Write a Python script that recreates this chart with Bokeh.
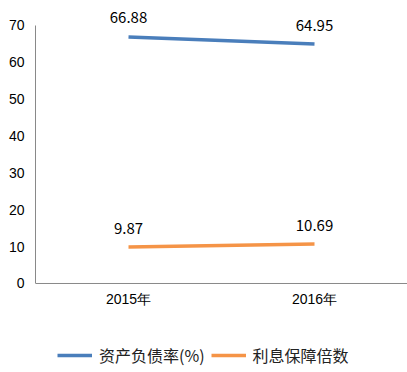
from bokeh.plotting import figure
from bokeh.models import FactorRange, Range1d, Legend, LegendItem, ColumnDataSource, LabelSet, FixedTicker, Span
from bokeh.core.properties import value
from bokeh.embed import file_html
from bokeh.resources import INLINE

years = ["2015年", "2016年"]
debt_ratio = [66.88, 64.95]
interest_cover = [9.87, 10.69]
series_names = ["资产负债率(%)", "利息保障倍数"]
y_ticks = [0, 10, 20, 30, 40, 50, 60, 70]

p = figure(width=407, height=372, x_range=FactorRange(*years), y_range=Range1d(-24.15, 76.78),
           output_backend="svg", toolbar_location=None,
           min_border_left=35, min_border_right=0, min_border_top=0, min_border_bottom=0)
p.outline_line_color = None
p.xgrid.grid_line_color = None
p.ygrid.grid_line_color = None
p.xaxis.visible = False
p.yaxis.ticker = FixedTicker(ticks=y_ticks)
p.yaxis.bounds = (0, 70)
p.yaxis.axis_line_color = "#898989"
p.yaxis.major_tick_line_color = None
p.yaxis.minor_tick_line_color = None
p.yaxis.major_label_text_font = "Liberation Sans"
p.yaxis.major_label_text_font_size = "14px"
p.yaxis.major_label_text_color = "#000000"
p.yaxis.major_label_standoff = 5

p.add_layout(Span(location=0, dimension="width", line_color="#898989", line_width=1))
xsrc = ColumnDataSource(dict(x=years, y=[0, 0]))
p.add_layout(LabelSet(x="x", y="y", text="x", source=xsrc, text_align="center", text_baseline="middle",
                      y_offset=-16, text_font=value("Liberation Sans"), text_font_size=value("14px"),
                      text_color="#000000"))

colors = ["#4A7EBB", "#F59447"]
src1 = ColumnDataSource(dict(x=years, y=debt_ratio, t=[f"{v:.2f}" for v in debt_ratio]))
src2 = ColumnDataSource(dict(x=years, y=interest_cover, t=[f"{v:.2f}" for v in interest_cover]))
r1 = p.line("x", "y", source=src1, line_color=colors[0], line_width=3.5)
r2 = p.line("x", "y", source=src2, line_color=colors[1], line_width=3.5)
for s in (src1, src2):
    p.add_layout(LabelSet(x="x", y="y", text="t", source=s, text_align="center", text_baseline="middle",
                          y_offset=19, text_font=value("Noto Sans CJK SC"), text_font_size=value("15px"),
                          text_color="#000000"))

legend = Legend(items=[LegendItem(label=series_names[0], renderers=[r1]),
                       LegendItem(label=series_names[1], renderers=[r2])],
                orientation="horizontal", location=(22, 5), border_line_color=None,
                background_fill_alpha=0,
                label_text_font="Noto Sans CJK SC", label_text_font_size="16px",
                label_text_color="#222222",
                glyph_width=35, spacing=6, label_standoff=7, padding=0, margin=0)
p.add_layout(legend, "center")

open("out.html", "w").write(file_html(p, INLINE))
